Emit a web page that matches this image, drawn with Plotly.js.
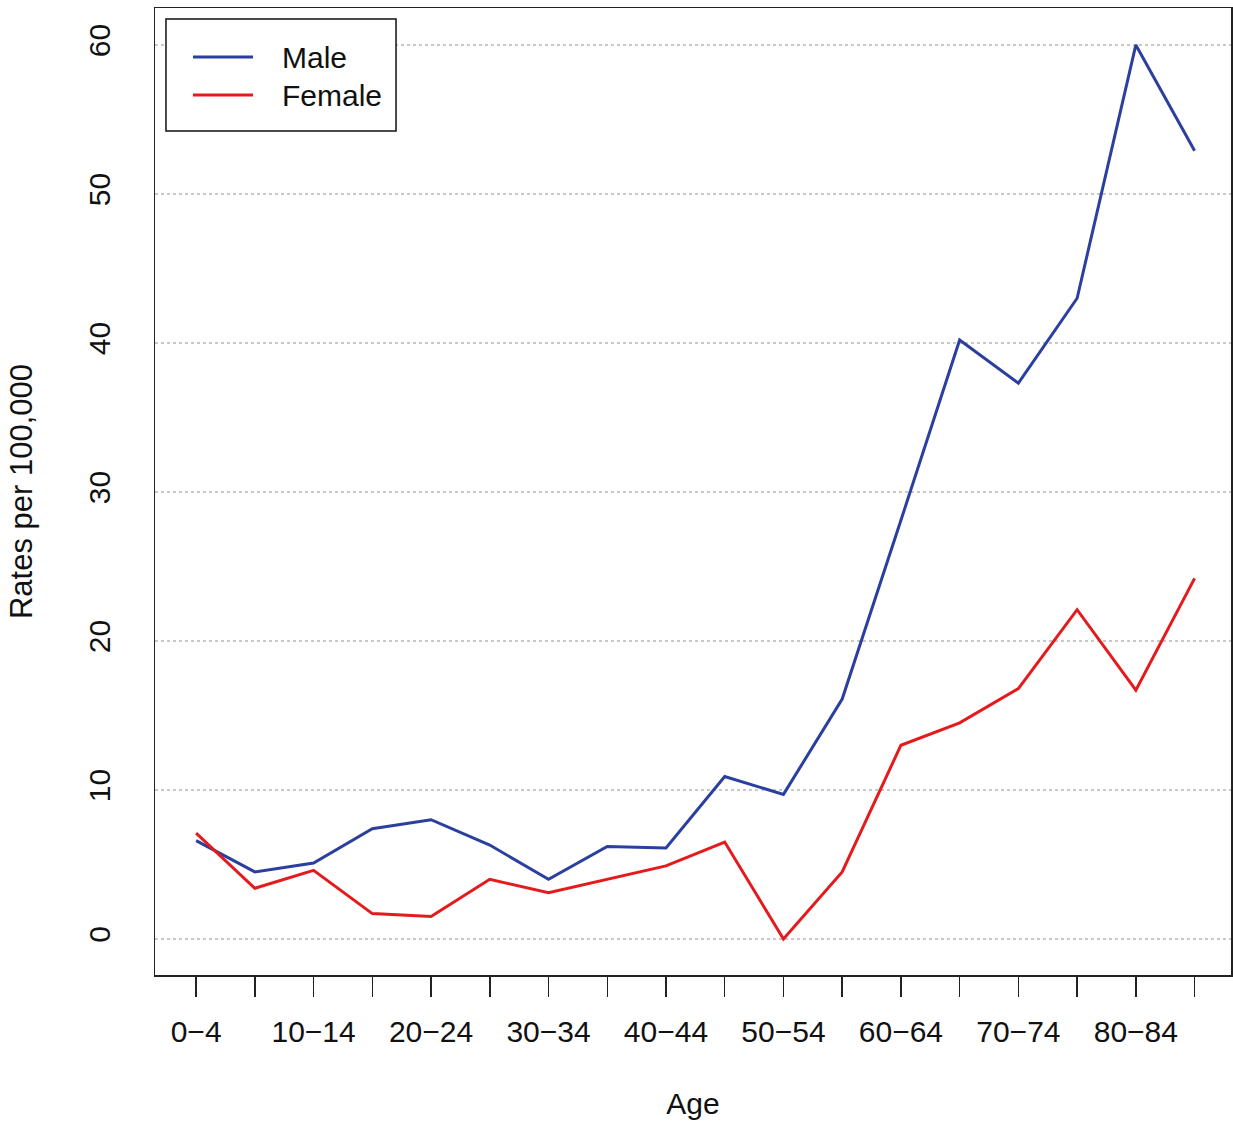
<!DOCTYPE html>
<html>
<head>
<meta charset="utf-8">
<script src="https://cdn.plot.ly/plotly-3.0.1.min.js"></script>
<style>html,body{margin:0;padding:0;background:#fff;}#chart{width:1233px;height:1128px;}</style>
</head>
<body>
<div id="chart"></div>
<script>
const ageGroups = ["0−4","5−9","10−14","15−19","20−24","25−29","30−34","35−39","40−44","45−49","50−54","55−59","60−64","65−69","70−74","75−79","80−84","85+"];
const maleRates = [6.6, 4.5, 5.1, 7.4, 8.0, 6.3, 4.0, 6.2, 6.1, 10.9, 9.7, 16.1, 28.1, 40.2, 37.3, 43.0, 60.0, 52.9];
const femaleRates = [7.1, 3.4, 4.6, 1.7, 1.5, 4.0, 3.1, 4.0, 4.9, 6.5, 0.0, 4.5, 13.0, 14.5, 16.8, 22.1, 16.7, 24.2];
const yTicks = [0, 10, 20, 30, 40, 50, 60];
const seriesNames = ["Male", "Female"];
const seriesColors = ["#2b3f9e", "#e41a1c"];

const idx = ageGroups.map((_, i) => i);
const tickText = ageGroups.map((g, i) => (i % 2 === 0 ? g : ""));
const font = "Liberation Sans, Arial, sans-serif";
const txt = "#111";

const traces = [maleRates, femaleRates].map((vals, k) => ({
  x: idx, y: vals, name: seriesNames[k], type: "scatter", mode: "lines",
  line: {color: seriesColors[k], width: 3}, showlegend: false
}));

// Legend drawn as a boxed key (R-style legend) in paper coordinates
const legRows = [0.9493, 0.91];
const shapes = [
  {type: "rect", xref: "paper", yref: "paper", x0: 0.0102, x1: 0.224, y0: 0.8728, y1: 0.9886,
   line: {color: "#111", width: 1.5}, fillcolor: "#fff", layer: "above"}
].concat(legRows.map((yy, k) => ({
  type: "line", xref: "paper", yref: "paper", x0: 0.0353, x1: 0.0911, y0: yy, y1: yy,
  line: {color: seriesColors[k], width: 3}, layer: "above"
})));
const annotations = legRows.map((yy, k) => ({
  xref: "paper", yref: "paper", x: 0.1162, y: yy, xanchor: "left", yanchor: "middle",
  text: seriesNames[k], showarrow: false, font: {family: font, size: 30, color: txt}
}));

const layout = {
  width: 1233, height: 1128,
  margin: {l: 155, r: 2, t: 8, b: 153},
  paper_bgcolor: "#fff", plot_bgcolor: "#fff",
  font: {family: font, size: 30, color: txt},
  showlegend: false,
  shapes: shapes,
  annotations: annotations,
  xaxis: {
    range: [-0.7, 17.62], tickmode: "array", tickvals: idx, ticktext: tickText,
    ticks: "outside", ticklen: 20, tickwidth: 1.5, tickcolor: "#222",
    showgrid: false, zeroline: false,
    showline: true, linecolor: "#222", linewidth: 1.5, mirror: true,
    ticklabelstandoff: 9,
    tickfont: {family: font, size: 30, color: txt},
    title: {text: "Age", font: {family: font, size: 30, color: txt}, standoff: 46}
  },
  yaxis: {
    range: [-2.42, 62.48], tickmode: "array", tickvals: yTicks,
    ticks: "", tickangle: -90, ticklabelstandoff: 32,
    showgrid: true, gridcolor: "#c8c8c8", gridwidth: 1.5, griddash: "dot",
    zeroline: false,
    showline: true, linecolor: "#222", linewidth: 1.5, mirror: true,
    tickfont: {family: font, size: 30, color: txt},
    title: {text: "Rates per 100,000", font: {family: font, size: 31, color: txt}, standoff: 40}
  }
};

Plotly.newPlot("chart", traces, layout, {displayModeBar: false, staticPlot: true});
</script>
</body>
</html>
